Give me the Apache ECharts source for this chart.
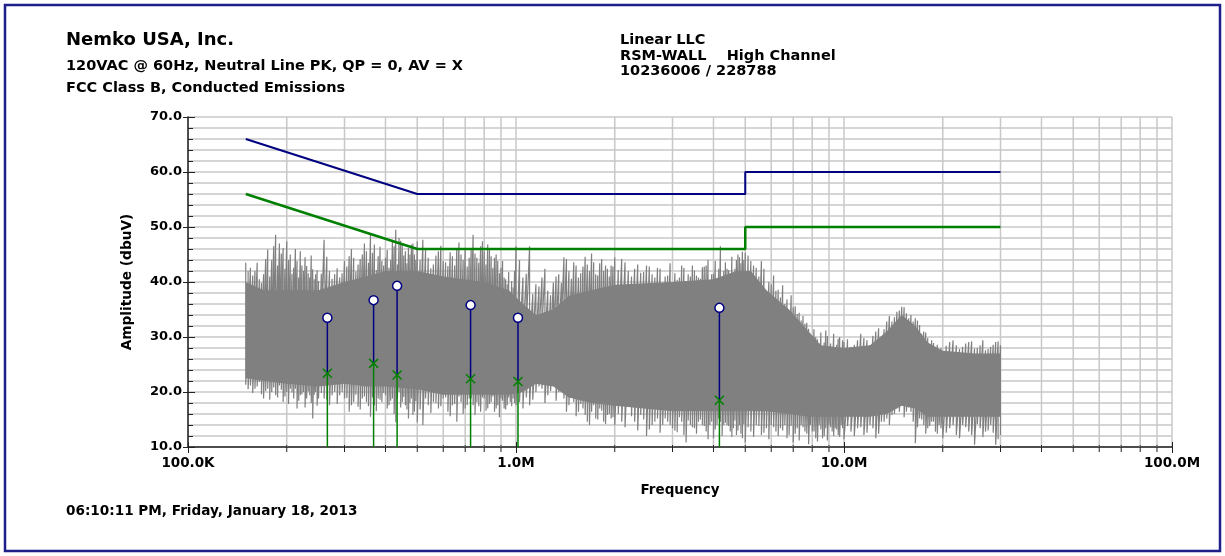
<!DOCTYPE html>
<html>
<head>
<meta charset="utf-8">
<script src="https://cdn.jsdelivr.net/npm/echarts@6/dist/echarts.min.js"></script>
<style>html,body{margin:0;padding:0;background:#fff}#c{width:1225px;height:556px}</style>
</head>
<body>
<div id="c"></div>
<script>
// ---------------- DATA (frequencies in MHz, amplitudes in dBuV) ----------------
const headerLeft = ['Nemko USA, Inc.', '120VAC @ 60Hz, Neutral Line PK, QP = 0, AV = X', 'FCC Class B, Conducted Emissions'];
const headerRight = ['Linear LLC', 'RSM-WALL    High Channel', '10236006 / 228788'];
const footerText = '06:10:11 PM, Friday, January 18, 2013';
const xAxisTitle = 'Frequency';
const yAxisTitle = 'Amplitude (dbuV)';

const xTickValues = [0.1, 1, 10, 100];
const xTickLabels = ['100.0K', '1.0M', '10.0M', '100.0M'];
const xMinorGrid = [0.2,0.3,0.4,0.5,0.6,0.7,0.8,0.9, 2,3,4,5,6,7,8,9, 20,30,40,50,60,70,80,90];
const yMin = 10, yMax = 70, yStep = 10;

// FCC Class B limits
const qpLimitFreq = [0.15, 0.5, 5, 5, 30];
const qpLimitVal  = [66, 56, 56, 60, 60];
const avLimitFreq = [0.15, 0.5, 5, 5, 30];
const avLimitVal  = [56, 46, 46, 50, 50];

// Measured markers
const markerFreq = [0.266, 0.368, 0.434, 0.727, 1.014, 4.17];
const markerQP   = [33.5, 36.7, 39.3, 35.8, 33.5, 35.3];
const markerAV   = [23.4, 25.2, 23.1, 22.4, 21.9, 18.5];

// Peak trace: dense core band
const coreFreq   = [0.15,0.17,0.2,0.25,0.3,0.35,0.4,0.5,0.6,0.8,0.95,1.05,1.15,1.3,1.45,1.7,2.0,3.0,4.0,4.7,5.2,5.8,6.8,7.8,8.5,10,12,13.5,15,16.5,18,20,25,30];
const coreTop    = [40,38.5,38.5,38.5,40,41,42,42,41,40,38.5,36,34,35,37.5,38.5,39.5,40,40.5,42,42,38.5,35,31,28.5,28,28.5,31,34,32,29,27.5,27,27];
const coreBottom = [22.5,22,21.5,21,21.5,21,21,20.5,19.5,19.5,19.5,20,21.5,21,19,18,17.5,16.5,16.5,16.5,16.5,16.5,16,15.5,15.5,15.5,15.5,16,17.5,17,15.5,15.5,15.5,15.5];

// Peak trace, main bins (max / min per bin)
const traceFreq = [
  0.150,0.155,0.160,0.165,0.170,0.175,0.180,0.185,0.190,0.195,0.200,0.205,0.210,0.215,0.220,0.225,0.230,0.235,0.240,0.245,0.250,
  0.26,0.27,0.28,0.29,0.30,0.31,0.32,0.33,0.34,0.35,0.36,0.37,0.38,0.39,0.40,0.41,0.42,0.43,0.44,0.45,0.46,0.47,0.48,0.49,0.50,
  0.52,0.54,0.56,0.58,0.60,0.62,0.64,0.66,0.68,0.70,0.72,0.74,0.76,0.78,0.80,0.82,0.84,0.86,0.88,0.90,0.92,0.94,0.96,0.98,1.00,
  1.05,1.10,1.15,1.20,1.25,1.30,1.35,1.40,1.45,1.50,1.55,1.60,1.65,1.70,1.75,1.80,1.85,1.90,1.95,2.00,
  2.1,2.2,2.3,2.4,2.5,2.6,2.7,2.8,2.9,3.0,3.1,3.2,3.3,3.4,3.5,3.6,3.7,3.8,3.9,4.0,4.1,4.2,4.3,4.4,4.5,4.6,4.7,4.8,4.9,5.0,
  5.2,5.4,5.6,5.8,6.0,6.2,6.4,6.6,6.8,7.0,7.2,7.4,7.6,7.8,8.0,8.2,8.4,8.6,8.8,9.0,9.2,9.4,9.6,9.8,10,
  10.5,11,11.5,12,12.5,13,13.5,14,14.5,15,15.5,16,16.5,17,17.5,18,18.5,19,19.5,20,
  21,22,23,24,25,26,27,28,29,30
];
const tracePeak = [
  43.5,42.6,42.0,40.5,41.4,45.9,44.0,48.6,47.0,46.2,47.4,45.0,42.6,43.8,45.6,42.0,42.9,40.8,42.3,41.4,40.2,
  47.7,42.0,41.4,40.8,43.8,44.7,44.4,43.2,45.0,45.6,48.6,46.8,44.7,43.8,44.4,42.6,47.7,49.5,48.0,46.8,45.6,46.2,46.8,45.0,47.4,
  47.7,44.4,43.2,45.6,43.8,42.9,44.7,46.2,45.0,45.9,44.4,48.6,44.4,46.5,45.6,46.8,44.7,44.4,43.8,42.6,40.8,39.6,37.8,39.0,46.5,
  40.8,46.5,39.6,40.8,38.4,39.9,41.4,44.5,42.0,43.6,40.8,42.8,43.2,45.2,41.4,43.4,42.0,42.4,43.0,44.5,
  44.2,42.0,42.4,41.7,43.0,41.4,42.6,39.6,41.2,39.3,40.4,43.0,40.2,41.0,42.1,40.8,42.7,43.0,39.9,41.5,39.9,46.5,42.0,42.4,40.8,41.0,44.0,44.5,45.5,45.3,
  43.8,42.6,43.8,38.4,39.6,38.4,37.2,36.0,34.8,35.4,34.2,33.0,32.4,31.5,29.4,30.0,28.8,28.2,31.2,27.3,27.9,28.2,29.7,27.6,29.1,
  28.2,29.4,29.8,28.5,31.0,30.1,32.8,32.8,34.6,35.5,34.3,34.0,33.4,32.2,31.0,29.8,29.4,27.9,27.6,27.0,
  29.1,28.5,28.2,29.1,27.9,28.5,27.6,28.2,29.1,28.5
];
const traceFloor = [
  21.3,21.2,20.6,21.8,18.8,20.6,20.0,19.4,21.2,18.2,20.0,20.6,18.8,17.0,19.4,20.0,18.8,19.4,15.2,20.0,18.8,
  18.8,17.6,20.0,19.4,18.8,16.4,18.2,17.3,18.8,18.2,15.5,17.6,18.8,18.2,19.4,17.6,18.8,14.5,20.0,18.2,17.6,15.2,18.8,16.4,14.5,
  14.0,17.6,18.2,17.0,18.8,16.4,17.6,14.6,18.2,17.0,18.8,17.6,18.2,16.4,18.8,17.0,18.2,16.4,17.6,18.8,17.0,17.6,18.2,18.8,17.6,
  17.0,17.6,20.0,20.6,19.4,21.2,20.0,18.8,17.6,18.2,16.4,17.0,14.6,16.4,15.2,17.0,14.6,15.8,15.2,14.0,
  14.6,17.3,14.6,15.8,12.0,14.0,15.2,14.0,14.6,13.4,12.7,14.6,10.8,14.0,13.4,14.6,14.0,12.8,14.0,11.6,14.0,14.6,14.0,14.0,12.8,13.4,12.2,14.0,11.6,10.8,
  12.8,14.0,12.2,13.4,14.0,12.8,13.4,14.0,12.2,10.8,13.4,14.0,12.8,10.5,12.8,11.6,14.0,11.6,13.4,14.0,12.8,13.4,12.2,14.0,11.4,
  12.8,13.4,12.2,14.0,11.6,14.6,15.2,15.8,17.0,17.6,16.4,16.4,10.7,15.2,14.0,13.4,14.6,12.8,14.0,11.6,
  13.4,12.2,14.0,12.8,10.4,13.4,12.8,14.0,10.4,12.2
];

// Peak trace, in-between bins (max / min per bin)
const trace2Freq = [
  0.1525,0.1575,0.1625,0.1675,0.1725,0.1775,0.1825,0.1875,0.1925,0.1975,0.2025,0.2075,0.2125,0.2175,0.2225,0.2275,0.2325,0.2375,0.2425,0.2475,
  0.255,0.265,0.275,0.285,0.295,0.305,0.315,0.325,0.335,0.345,0.355,0.365,0.375,0.385,0.395,0.405,0.415,0.425,0.435,0.445,0.455,0.465,0.475,0.485,0.495,
  0.51,0.53,0.55,0.57,0.59,0.61,0.63,0.65,0.67,0.69,0.71,0.73,0.75,0.77,0.79,0.81,0.83,0.85,0.87,0.89,0.91,0.93,0.95,0.97,0.99,
  1.025,1.075,1.125,1.175,1.225,1.275,1.325,1.375,1.425,1.475,1.525,1.575,1.625,1.675,1.725,1.775,1.825,1.875,1.925,1.975,
  2.05,2.15,2.25,2.35,2.45,2.55,2.65,2.75,2.85,2.95,3.05,3.15,3.25,3.35,3.45,3.55,3.65,3.75,3.85,3.95,4.05,4.15,4.25,4.35,4.45,4.55,4.65,4.75,4.85,4.95,
  5.1,5.3,5.5,5.7,5.9,6.1,6.3,6.5,6.7,6.9,7.1,7.3,7.5,7.7,7.9,8.1,8.3,8.5,8.7,8.9,9.1,9.3,9.5,9.7,9.9,
  10.25,10.75,11.25,11.75,12.25,12.75,13.25,13.75,14.25,14.75,15.25,15.75,16.25,16.75,17.25,17.75,18.25,18.75,19.25,19.75,
  20.5,21.5,22.5,23.5,24.5,25.5,26.5,27.5,28.5,29.5
];
const trace2Peak = [
  42.0,41.2,43.5,39.8,44.2,41.0,46.5,43.0,45.2,42.4,44.0,41.5,46.0,40.8,43.0,44.5,41.6,44.8,40.5,42.2,
  41.5,44.6,40.6,42.5,41.6,42.8,46.0,41.9,44.2,47.0,43.5,45.3,42.2,46.4,43.0,45.8,44.0,46.5,43.2,47.5,44.8,43.4,45.0,47.0,44.0,
  44.0,46.0,42.5,44.8,46.6,43.6,45.4,43.0,47.2,44.0,42.8,46.0,45.2,43.5,47.4,43.2,45.8,42.6,45.0,41.6,43.8,40.5,41.8,40.2,42.0,
  44.0,41.5,37.8,39.2,42.4,37.6,41.0,39.8,44.2,40.6,43.0,41.6,44.6,42.0,43.6,41.2,44.2,43.0,41.0,42.8,
  42.2,43.6,41.0,43.2,41.8,42.8,40.8,42.4,41.0,43.4,41.6,40.8,42.6,41.4,43.0,41.2,40.6,42.8,44.0,41.4,43.8,42.4,40.8,43.6,42.2,44.6,42.4,45.0,43.4,44.0,
  44.8,43.0,41.0,42.4,40.0,41.2,38.6,39.4,36.8,37.6,35.6,34.4,33.8,32.6,30.6,31.4,29.6,30.8,29.0,30.2,28.8,30.6,28.6,30.0,29.4,
  29.6,28.6,30.6,29.4,30.2,31.6,31.4,33.8,33.6,34.8,35.4,33.4,32.8,33.0,30.6,30.8,28.6,28.9,28.6,28.0,
  28.4,29.4,27.8,28.8,29.2,28.0,29.4,27.8,28.6,29.2
];
const trace2Floor = [
  20.5,19.8,21.0,19.6,20.2,18.6,20.8,19.0,20.4,19.2,17.8,19.9,20.6,18.4,19.6,17.2,20.1,18.0,19.5,17.5,
  19.8,18.6,19.4,17.8,20.0,18.9,17.6,19.5,16.8,19.2,17.4,19.0,16.5,18.6,19.8,17.0,18.4,16.0,18.8,17.2,19.1,16.8,18.0,15.8,18.3,
  16.8,18.8,16.2,18.0,17.4,19.0,15.6,17.8,19.2,16.0,17.6,18.8,15.8,17.4,19.0,16.6,17.8,19.2,17.0,15.4,18.4,16.8,19.0,17.4,18.0,
  18.2,19.0,18.6,21.0,18.0,20.2,18.4,20.0,16.4,19.0,15.6,17.8,15.8,14.0,17.6,15.0,16.6,14.2,16.0,15.4,
  16.0,13.6,15.6,13.0,15.0,13.2,14.6,12.6,15.2,14.0,13.0,15.4,12.2,14.8,13.6,12.4,15.0,13.8,11.4,14.6,13.2,15.2,12.0,14.4,13.8,11.8,14.8,13.0,12.4,14.2,
  13.6,11.8,13.8,12.6,11.4,13.6,12.0,13.0,11.6,13.8,12.4,11.2,13.6,12.4,14.0,12.8,11.0,13.2,12.0,11.2,13.6,12.0,13.2,11.8,13.4,
  13.8,12.0,13.6,12.6,13.4,12.4,14.6,14.0,16.0,16.4,15.4,17.2,14.6,13.6,15.0,12.4,13.8,14.6,12.4,13.4,
  12.6,14.0,11.6,13.6,12.2,14.2,11.8,13.0,12.6,11.4
];

// ---------------- CHART ----------------
const FONT = '"DejaVu Sans", "Liberation Sans", sans-serif';
const GRAY = '#808080';
const GRID = '#c8c8c8';
const NAVY = '#000080';
const GREEN = '#008000';

function xLabel(v) {
  const k = Math.round(Math.log10(v));
  const i = xTickValues.findIndex(t => Math.round(Math.log10(t)) === k);
  return i >= 0 ? xTickLabels[i] : '';
}

// peak-detector style trace: each bin visits its max then its min
function zigzag(freq, peak, floor) {
  const out = [];
  freq.forEach((f, i) => { out.push([f, peak[i]]); out.push([f, floor[i]]); });
  return out;
}

const chart = echarts.init(document.getElementById('c'), null, {renderer: 'canvas'});

const txt = (t, x, y, size) => ({
  type: 'text', x: x, y: y, silent: true,
  style: {text: t, font: 'bold ' + size + 'px ' + FONT, fill: '#000', align: 'left', verticalAlign: 'middle'}
});

const option = {
  animation: false,
  backgroundColor: '#ffffff',
  grid: {left: 188, right: 53, top: 117, bottom: 109, outerBoundsMode: 'none'},
  xAxis: [{
    type: 'log', logBase: 10, min: 0.1, max: 100,
    name: xAxisTitle, nameLocation: 'middle', nameGap: 36,
    nameTextStyle: {fontFamily: FONT, fontWeight: 'bold', fontSize: 13.5, color: '#000'},
    axisLine: {show: true, lineStyle: {color: '#222', width: 1.5}},
    axisTick: {show: true, length: 6, lineStyle: {color: '#222', width: 1}},
    axisLabel: {formatter: xLabel, fontFamily: FONT, fontWeight: 'bold', fontSize: 13.5, color: '#000', margin: 9},
    splitLine: {show: true, lineStyle: {color: GRID, width: 1.5}},
    minorTick: {show: false}, minorSplitLine: {show: false}
  }, {
    type: 'log', logBase: 10, min: 0.1, max: 100, position: 'bottom',
    axisLine: {show: false}, axisLabel: {show: false}, splitLine: {show: false},
    axisTick: {show: true, inside: true, length: 5, lineStyle: {color: '#222', width: 1}}
  }],
  yAxis: [{
    type: 'value', min: yMin, max: yMax, interval: yStep,
    name: yAxisTitle, nameLocation: 'middle', nameGap: 54, nameRotate: 90,
    nameTextStyle: {fontFamily: FONT, fontWeight: 'bold', fontSize: 13.7, color: '#000'},
    axisLine: {show: true, lineStyle: {color: '#222', width: 1.5}},
    axisTick: {show: true, inside: true, length: 7, lineStyle: {color: '#222', width: 1}},
    minorTick: {show: true, splitNumber: 5, length: 5, lineStyle: {color: '#222', width: 1}},
    axisLabel: {formatter: v => v.toFixed(1), fontFamily: FONT, fontWeight: 'bold', fontSize: 13, color: '#000', margin: 6},
    splitLine: {show: true, lineStyle: {color: GRID, width: 1.5}},
    minorSplitLine: {show: true, lineStyle: {color: GRID, width: 1.5}}
  }, {
    type: 'value', min: yMin, max: yMax, interval: yStep, position: 'left',
    axisLine: {show: false}, axisLabel: {show: false}, splitLine: {show: false},
    axisTick: {show: true, inside: false, length: 5, lineStyle: {color: '#222', width: 1}}
  }],
  graphic: [
    {type: 'rect', silent: true, shape: {x: 5, y: 5, width: 1215, height: 546},
     style: {fill: 'none', stroke: '#1f1f8a', lineWidth: 2.5}},
    txt(headerLeft[0], 66, 40.5, 18),
    txt(headerLeft[1], 66, 66, 14.5),
    txt(headerLeft[2], 66, 88, 14.5),
    txt(headerRight[0], 620, 40, 14.5),
    txt(headerRight[1], 620, 56.5, 14.5),
    txt(headerRight[2], 620, 71.5, 14.5),
    txt(footerText, 66, 511.5, 13.6)
  ],
  series: [
    { // minor vertical grid lines + minor x ticks
      type: 'custom', silent: true, z: 1, clip: false,
      data: xMinorGrid.map(f => [f, yMin]),
      renderItem: (p, api) => {
        const f = api.value(0);
        const a = api.coord([f, yMin]);
        const b = api.coord([f, yMax]);
        return {type: 'group', children: [
          {type: 'line', shape: {x1: a[0], y1: a[1], x2: b[0], y2: b[1]}, style: {stroke: GRID, lineWidth: 1.5}},
          {type: 'line', shape: {x1: a[0], y1: a[1] - 2, x2: a[0], y2: a[1] + 5}, style: {stroke: '#222', lineWidth: 1}}
        ]};
      }
    },
    { // dense core of the peak trace
      type: 'custom', silent: true, z: 2,
      data: [[coreFreq[0], coreTop[0]]],
      renderItem: (p, api) => {
        const pts = [];
        coreFreq.forEach((f, i) => pts.push(api.coord([f, coreTop[i]])));
        for (let i = coreFreq.length - 1; i >= 0; i--) pts.push(api.coord([coreFreq[i], coreBottom[i]]));
        return {type: 'polygon', shape: {points: pts}, style: {fill: GRAY}};
      }
    },
    {
      type: 'line', z: 2, silent: true, symbol: 'none',
      data: zigzag(traceFreq, tracePeak, traceFloor),
      lineStyle: {color: GRAY, width: 1.2, join: 'miter'}
    },
    {
      type: 'line', z: 2, silent: true, symbol: 'none',
      data: zigzag(trace2Freq, trace2Peak, trace2Floor),
      lineStyle: {color: GRAY, width: 1.2, join: 'miter'}
    },
    {
      type: 'line', z: 3, symbol: 'none', silent: true,
      data: qpLimitFreq.map((f, i) => [f, qpLimitVal[i]]),
      lineStyle: {color: NAVY, width: 2}
    },
    {
      type: 'line', z: 3, symbol: 'none', silent: true,
      data: avLimitFreq.map((f, i) => [f, avLimitVal[i]]),
      lineStyle: {color: GREEN, width: 2.5}
    },
    { // marker stems
      type: 'custom', silent: true, z: 4,
      data: markerFreq.map((f, i) => [f, markerQP[i], markerAV[i]]),
      encode: {x: 0, y: [1, 2]},
      renderItem: (p, api) => {
        const f = api.value(0);
        const base = api.coord([f, yMin]);
        const av = api.coord([f, api.value(2)]);
        const qp = api.coord([f, api.value(1)]);
        return {type: 'group', children: [
          {type: 'line', shape: {x1: base[0], y1: base[1], x2: av[0], y2: av[1]}, style: {stroke: GREEN, lineWidth: 1.5}},
          {type: 'line', shape: {x1: av[0], y1: av[1], x2: qp[0], y2: qp[1]}, style: {stroke: NAVY, lineWidth: 1.5}}
        ]};
      }
    },
    {
      type: 'scatter', z: 5, silent: true,
      data: markerFreq.map((f, i) => [f, markerQP[i]]),
      symbol: 'circle', symbolSize: 9,
      itemStyle: {color: '#ffffff', borderColor: NAVY, borderWidth: 1.5, opacity: 1}
    },
    {
      type: 'scatter', z: 5, silent: true,
      data: markerFreq.map((f, i) => [f, markerAV[i]]),
      symbol: 'path://M0,0L10,10M10,0L0,10', symbolSize: 9,
      itemStyle: {color: 'rgba(0,0,0,0)', borderColor: GREEN, borderWidth: 1.5, opacity: 1}
    }
  ]
};
chart.setOption(option);
</script>
</body>
</html>
